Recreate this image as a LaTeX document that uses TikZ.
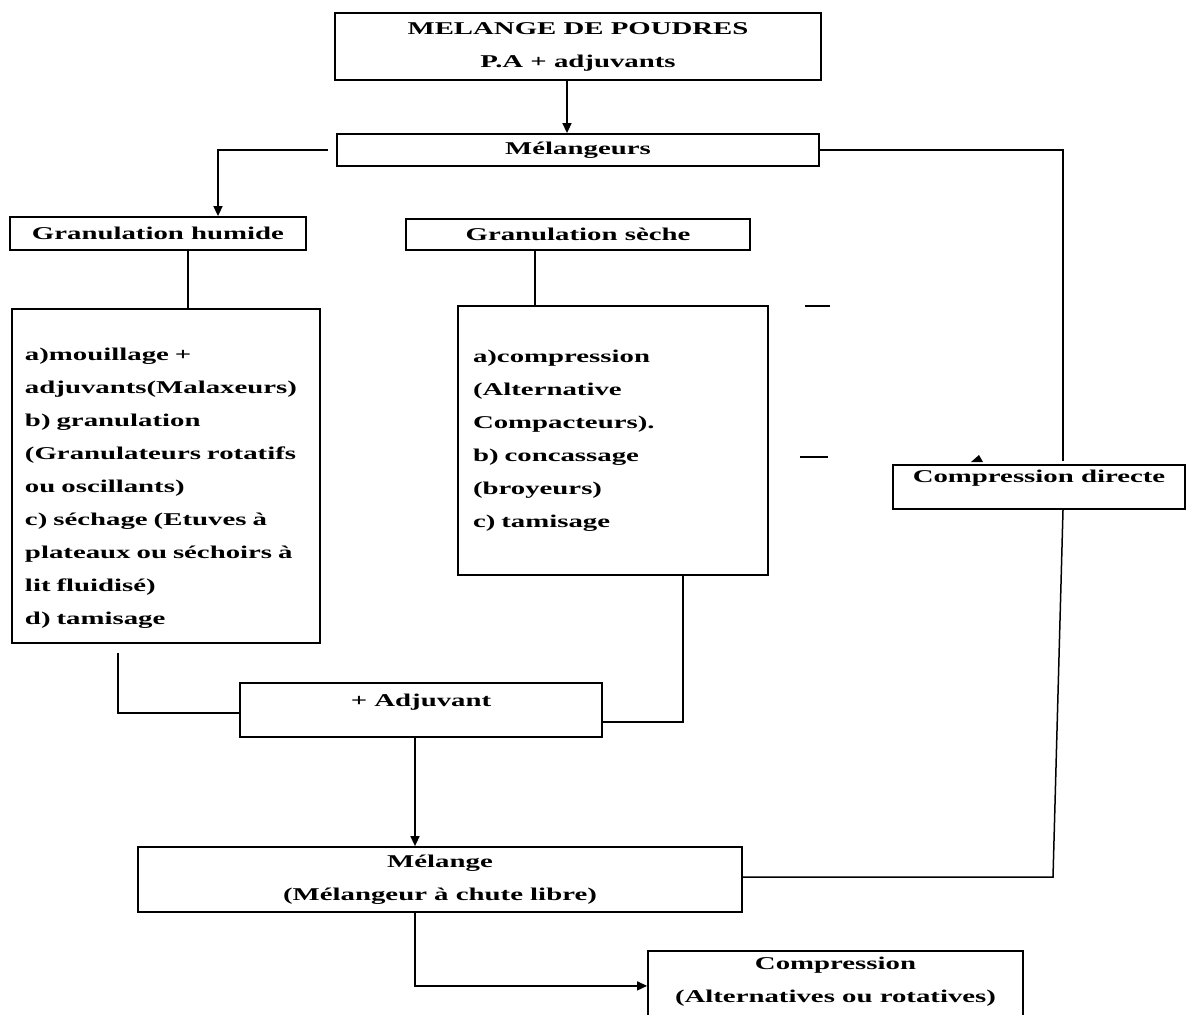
\documentclass[tikz,border=0pt]{standalone}
\usepackage{fontspec}
\usepackage{tikz}
\usetikzlibrary{arrows.meta, positioning}
\newfontfamily\boxfont{Liberation Serif}[FakeStretch=1.6]

\tikzset{
	box/.style={draw, line width=0.9pt, inner sep=0pt, align=center,
		font=\boxfont\bfseries\fontsize{9}{16.5}\selectfont},
	txtbox/.style={box, align=left, inner xsep=6.5pt},
	line/.style={line width=0.75pt},
	arr/.style={line, -{Triangle[length=5pt,width=4.5pt]}}
}

\begin{document}
\begin{tikzpicture}[x=0.5pt, y=-0.5pt]
				\useasboundingbox (0,0) rectangle (1187,1014);

				\node[box, minimum width=243pt, minimum height=33.5pt] (poudre) at (578,46.5) {MELANGE DE POUDRES\\P.A + adjuvants};
				\node[box, minimum width=241pt, minimum height=16pt] (mlg) at (578,150) {Mélangeurs};
				\node[box, minimum width=148pt, minimum height=16.5pt] (humide) at (158,233.5) {Granulation humide};
				\node[box, minimum width=172pt, minimum height=15.5pt] (seche) at (578,234.5) {Granulation sèche};

				\node[txtbox, minimum width=154pt, minimum height=167pt, text width=141pt] (etapesh) at (166,476)
					{\rule{0pt}{18pt}a)mouillage +\\adjuvants(Malaxeurs)\\b) granulation\\(Granulateurs rotatifs\\ou oscillants)\\c) séchage (Etuves à\\plateaux ou séchoirs à\\lit fluidisé)\\d) tamisage};
				\node[txtbox, minimum width=155pt, minimum height=134.5pt, text width=140pt] (etapess) at (613,440.5)
					{a)compression\\(Alternative\\Compacteurs).\\b) concassage\\(broyeurs)\\c) tamisage};

				\node[box, minimum width=146pt, minimum height=22pt, text depth=11pt] (directe) at (1039,487) {Compression directe};
				\node[box, minimum width=181pt, minimum height=27pt, text depth=10pt] (adj) at (421,710) {+ Adjuvant};
				\node[box, minimum width=302pt, minimum height=32.5pt] (mel) at (440,879.5) {Mélange\\(Mélangeur à chute libre)};
				\node[box, anchor=north, minimum width=187.5pt, minimum height=35pt, text depth=6.5pt] (comp) at (835.5,950) {Compression\\(Alternatives ou rotatives)};

				\draw[arr] ([xshift=-5.5pt]poudre.south) -- ([xshift=-5.5pt]mlg.north);
				\draw[arr] ([xshift=-4pt]mlg.west) -| ([xshift=30pt]humide.north);
				\draw[line] (mlg.east) -| ([xshift=12pt,yshift=1.5pt]directe.north);

				\draw[line] ([xshift=15pt]humide.south) -- ([xshift=15pt]humide.south |- etapesh.north);
				\draw[line] ([xshift=-21.5pt]seche.south) -- ([xshift=-21.5pt]seche.south |- etapess.north);

				\draw[line] ([xshift=-24pt,yshift=-4.5pt]etapesh.south) |- ([yshift=-1.5pt]adj.west);
				\draw[line] ([xshift=35pt]etapess.south) |- ([yshift=-6pt]adj.east);

				% retour de la compression directe
				\coordinate (coin) at (1053,877);
				\draw[line] ([xshift=12pt]directe.south) -- (coin) -- (mel.east |- coin);

				\draw[arr] ([xshift=-3pt]adj.south) -- ([xshift=-3pt]adj.south |- mel.north);
				\draw[arr] ([xshift=-12.5pt]mel.south) |- (comp.west);

				% traits isoles
				\draw[line] (805,306) -- (830,306);
				\draw[line] (800,457) -- (828,457);
				\fill (971,462) -- (983,462) -- (979,455) -- cycle;
			\end{tikzpicture}
\end{document}
